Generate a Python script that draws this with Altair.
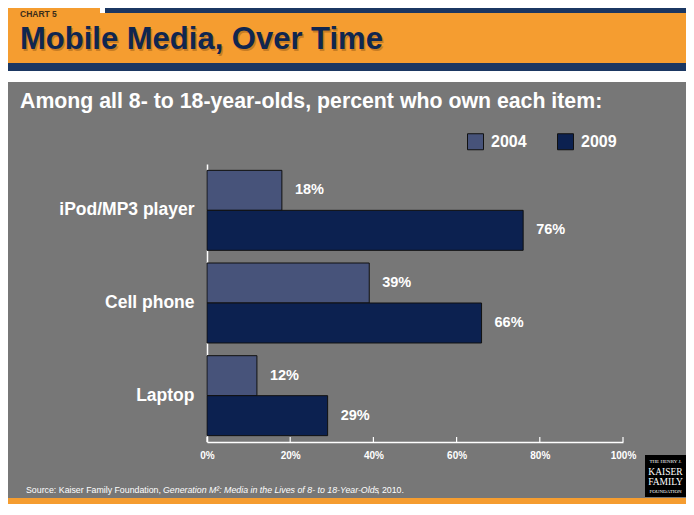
import altair as alt
import pandas as pd

categories = ["iPod/MP3 player", "Cell phone", "Laptop"]
years = ["2004", "2009"]
v2004 = [18, 39, 12]
v2009 = [76, 66, 29]
tick_values = [0, 20, 40, 60, 80, 100]
year_colors = ["#47537a", "#0c2150"]

FONT = "Liberation Sans"
BG = "#777777"
ORANGE = "#f59d30"
NAVY = "#1b3762"

rows = []
for c, a, b in zip(categories, v2004, v2009):
    rows.append({"item": c, "year": "2004", "pct": a, "label": f"{a}%"})
    rows.append({"item": c, "year": "2009", "pct": b, "label": f"{b}%"})
df = pd.DataFrame(rows)
ticks_df = pd.DataFrame({"t": tick_values})

W, H = 416, 278
OX, OY = 207, 164  # page position of plot origin
TOTAL_W, TOTAL_H = 678, 496


def one():
    return alt.Data(values=[{"a": 0}])


def rect(x1, x2, y1, y2, color):
    return alt.Chart(one()).mark_rect(color=color, clip=False).encode(
        x=alt.value(x1 - OX), x2=alt.value(x2 - OX),
        y=alt.value(y1 - OY), y2=alt.value(y2 - OY))


def text(t, x, y, size, color, weight="bold", align="left", style="normal", font=FONT, baseline="alphabetic", opacity=1):
    return alt.Chart(one()).mark_text(
        text=t, font=font, fontSize=size, fontWeight=weight, color=color,
        align=align, baseline=baseline, fontStyle=style, clip=False, opacity=opacity).encode(
        x=alt.value(x - OX), y=alt.value(y - OY))


deco = [
    rect(0, 700, 0, 82, "white"),
    rect(105, 700, 0, 13, NAVY),
    rect(0, 100, 0, 13, ORANGE),
    rect(0, 700, 13, 63, ORANGE),
    rect(0, 700, 63, 71, NAVY),
    rect(0, 700, 498, 504, ORANGE),
    rect(645, 686, 455, 497, "black"),
    text("CHART 5", 20, 17, 8.5, "#3a2c1a"),
    text("Mobile Media, Over Time", 21.5, 50.5, 31, "#9a5d18", opacity=0.5),
    text("Mobile Media, Over Time", 20, 49, 31, "#10264f"),
    text("Among all 8- to 18-year-olds, percent who own each item:", 20, 108, 21.3, "white"),
    text("Source: Kaiser Family Foundation, ", 26, 493, 8.8, "white", weight="normal"),
    text("Generation M\u00b2: Media in the Lives of 8- to 18-Year-Olds", 163, 493, 8.8, "white", weight="normal", style="italic"),
    text(", 2010.", 377, 493, 8.8, "white", weight="normal"),
    text("THE HENRY J.", 665.5, 463, 5, "white", weight="normal", align="center", font="Liberation Serif"),
    text("KAISER", 665.5, 475, 9.5, "white", weight="normal", align="center", font="Liberation Serif"),
    text("FAMILY", 665.5, 485, 9.5, "white", weight="normal", align="center", font="Liberation Serif"),
    text("FOUNDATION", 665.5, 493, 5, "white", weight="normal", align="center", font="Liberation Serif"),
]

xscale = alt.Scale(domain=[0, 100], nice=False, zero=True)
yscale = alt.Scale(domain=categories, paddingInner=0.137, paddingOuter=0.0685)

base = alt.Chart(df)

bars = base.mark_bar(stroke="#111111", strokeWidth=1).encode(
    x=alt.X("pct:Q", scale=xscale, title=None,
            axis=alt.Axis(values=tick_values, labelExpr="datum.value + '%'", ticks=False,
                          grid=False, domainColor="white", domainWidth=1.5,
                          labelColor="white", labelFont=FONT, labelFontSize=10,
                          labelFontWeight="bold", labelPadding=8, labelFlush=False)),
    y=alt.Y("item:N", scale=yscale, sort=categories, title=None,
            axis=alt.Axis(ticks=False, domainColor="white", domainWidth=1.5,
                          labelColor="white", labelFont=FONT, labelFontSize=17.5,
                          labelFontWeight="bold", labelPadding=13)),
    yOffset=alt.YOffset("year:N", sort=years, scale=alt.Scale(paddingInner=0, paddingOuter=0)),
    color=alt.Color("year:N", sort=years,
                    scale=alt.Scale(domain=years, range=year_colors),
                    legend=alt.Legend(orient="none", legendX=260, legendY=-31,
                                      direction="horizontal", title=None,
                                      symbolType="square", symbolSize=256,
                                      symbolStrokeColor="#111111", symbolStrokeWidth=1,
                                      symbolOpacity=1,
                                      labelFont=FONT, labelFontSize=16, labelFontWeight="bold",
                                      labelColor="white", labelOffset=7, columnPadding=28,
                                      padding=0)),
)

labels = base.mark_text(align="left", baseline="middle", dx=13, font=FONT,
                        fontSize=14.5, fontWeight="bold", color="white").encode(
    x=alt.X("pct:Q", scale=xscale),
    y=alt.Y("item:N", scale=yscale, sort=categories),
    yOffset=alt.YOffset("year:N", sort=years),
    text="label:N",
)

tick_marks = alt.Chart(ticks_df).mark_rule(color="white", strokeWidth=1.2).encode(
    x=alt.X("t:Q", scale=xscale),
    y=alt.value(H - 5),
    y2=alt.value(H),
)

chart = alt.layer(*deco, bars, labels, tick_marks).properties(
    width=W, height=H,
    padding={"left": OX - 8, "top": OY - 8,
             "right": TOTAL_W - (OX - 8) - W, "bottom": TOTAL_H - (OY - 8) - H},
    autosize=alt.AutoSizeParams(type="none"),
    background=BG,
).configure_view(stroke=None)

chart.save("out.html", embed_options={"renderer": "svg", "actions": False})
